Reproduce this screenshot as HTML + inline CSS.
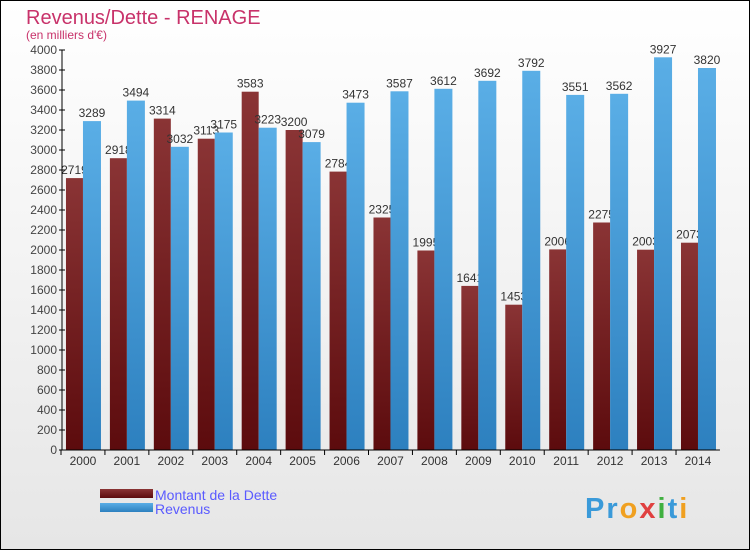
<!DOCTYPE html>
<html><head><meta charset="utf-8"><style>
body{margin:0;}
#c{position:relative;width:748px;height:548px;border:1px solid #000;background:linear-gradient(#fff,#e6e6e6);font-family:"Liberation Sans",sans-serif;overflow:hidden}
</style></head><body>
<div id="c">
<svg id="s" width="748" height="548" xmlns="http://www.w3.org/2000/svg">
<defs>
<linearGradient id="gr" x1="0" y1="0" x2="0" y2="1"><stop offset="0" stop-color="#8a3435"/><stop offset="1" stop-color="#5c0b0d"/></linearGradient>
<linearGradient id="gb" x1="0" y1="0" x2="0" y2="1"><stop offset="0" stop-color="#5aaee6"/><stop offset="1" stop-color="#2d80bf"/></linearGradient>
</defs>
<text x="25" y="23" font-size="20" fill="#c8326a">Revenus/Dette - RENAGE</text>
<text x="25" y="38" font-size="12" fill="#c8326a">(en milliers d'€)</text>
<g id="marks"></g>
<g>
<rect x="99" y="488" width="53" height="9" fill="url(#gr)"/>
<text x="154" y="499" font-size="14" fill="#5a5aff">Montant de la Dette</text>
<rect x="99" y="502" width="53" height="9" fill="url(#gb)"/>
<text x="154" y="513" font-size="14" fill="#5a5aff">Revenus</text>
</g>
<text x="584" y="517" font-size="29" font-weight="bold" letter-spacing="2" fill="#3a9ad9">Pr<tspan fill="#f0a020">o</tspan><tspan fill="#e04040">x</tspan><tspan fill="#40b040">i</tspan>t<tspan fill="#f0a020">i</tspan></text>
</svg>
</div>
<script>
const years=["2000","2001","2002","2003","2004","2005","2006","2007","2008","2009","2010","2011","2012","2013","2014"];
const dette=[2719,2918,3314,3113,3583,3200,2784,2325,1995,1641,1453,2006,2275,2003,2073];
const revenus=[3289,3494,3032,3175,3223,3079,3473,3587,3612,3692,3792,3551,3562,3927,3820];
const yTicks=[0,200,400,600,800,1000,1200,1400,1600,1800,2000,2200,2400,2600,2800,3000,3200,3400,3600,3800,4000];
const NS="http://www.w3.org/2000/svg";
const g=document.getElementById('marks');
const x0=60,band=43.93,y0=449,ys=0.1;
function y(v){return y0-v*ys;}
function bx(i){return x0+i*band;}
function mk(t,a){const e=document.createElementNS(NS,t);for(const k in a)e.setAttribute(k,a[k]);g.appendChild(e);return e;}
yTicks.forEach(v=>{
 const l=mk('line',{x1:58,x2:64,y1:y(v),y2:y(v),stroke:'#000'});
 
 
 const t=mk('text',{x:56,y:y(v)+4,'font-size':12,fill:'#444','text-anchor':'end'});t.textContent=v;
 
 
});
years.forEach((yr,i)=>{
 const cx=bx(i)+band/2;
 const r=mk('rect',{x:cx-17,y:y(dette[i]),width:17,height:dette[i]*ys,fill:'url(#gr)'});
 
 
 const t1=mk('text',{x:cx-8.5,y:y(dette[i])-4,'font-size':12,fill:'#333','text-anchor':'middle'});t1.textContent=dette[i];
 
 
 const b=mk('rect',{x:cx,y:y(revenus[i]),width:18,height:revenus[i]*ys,fill:'url(#gb)'});
 
 
 const t2=mk('text',{x:cx+9,y:y(revenus[i])-4,'font-size':12,fill:'#333','text-anchor':'middle'});t2.textContent=revenus[i];
 
 
 const tk=mk('line',{x1:bx(i),x2:bx(i),y1:y0,y2:y0+5,stroke:'#000'});
 
 
 const xl=mk('text',{x:cx,y:y0+15,'font-size':12,fill:'#333','text-anchor':'middle'});xl.textContent=yr;
 
 
});
const ya=mk('line',{x1:61,x2:61,y1:y(4000),y2:y0,stroke:'#000'});


const xa=mk('line',{x1:61,x2:bx(years.length),y1:y0,y2:y0,stroke:'#000'});


</script>
</body></html>
